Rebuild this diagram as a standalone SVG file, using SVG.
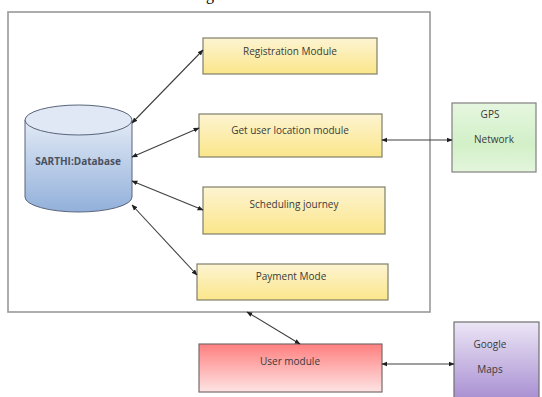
<svg xmlns="http://www.w3.org/2000/svg" width="542" height="397" viewBox="0 0 542 397">
<defs>
<style>
.lbl{font-family:"Open Sans","Liberation Sans",sans-serif;font-size:10px;fill:#3a3a3a;text-anchor:middle}
.conn{stroke:#404040;stroke-width:1.1;fill:none;marker-start:url(#ah);marker-end:url(#ah)}
.box{stroke:#7f7f6a;stroke-width:1.2}
</style>
<marker id="ah" viewBox="0 0 10 10" refX="9" refY="5" markerWidth="6" markerHeight="6" orient="auto-start-reverse" markerUnits="userSpaceOnUse">
<path d="M0,1 L10,5 L0,9 z" fill="#202020"/>
</marker>
<linearGradient id="gy" x1="0" y1="0" x2="0" y2="1"><stop offset="0" stop-color="#fdf4d2"/><stop offset="1" stop-color="#fbe68a"/></linearGradient>
<linearGradient id="gg" x1="0" y1="0" x2="0" y2="1"><stop offset="0" stop-color="#e6f6df"/><stop offset="0.6" stop-color="#d2f0c8"/><stop offset="1" stop-color="#e4f5dc"/></linearGradient>
<linearGradient id="gr" x1="0" y1="0" x2="0" y2="1"><stop offset="0" stop-color="#ff7f7f"/><stop offset="1" stop-color="#fde4e4"/></linearGradient>
<linearGradient id="gp" x1="0" y1="0" x2="0" y2="1"><stop offset="0" stop-color="#ece6f6"/><stop offset="1" stop-color="#a68cd0"/></linearGradient>
<linearGradient id="gb" x1="0" y1="0" x2="0" y2="1"><stop offset="0" stop-color="#e2eaf5"/><stop offset="1" stop-color="#92b0da"/></linearGradient>
</defs>
<rect width="542" height="397" fill="#ffffff"/>
<text x="206" y="0" font-family="Liberation Serif,serif" font-size="16" fill="#000">g</text>
<rect id="frame" x="8" y="12" width="422" height="300" fill="none" stroke="#999999" stroke-width="1.6"/>

<g id="database">
<path d="M25,120 L25,197 A53.5,15 0 0 0 132,197 L132,120 Z" fill="url(#gb)" stroke="#58647a" stroke-width="1"/>
<ellipse cx="78.5" cy="120" rx="53.5" ry="15" fill="#dfe8f4" stroke="#58647a" stroke-width="1"/>
<text class="lbl" x="78" y="165" style="font-weight:bold;fill:#4a5060">SARTHI:Database</text>
</g>

<g id="registration">
<rect class="box" x="203" y="38" width="174" height="36" fill="url(#gy)"/>
<text class="lbl" x="290" y="55">Registration Module</text>
</g>
<g id="location">
<rect class="box" x="199" y="114" width="183" height="43" fill="url(#gy)"/>
<text class="lbl" x="290" y="134">Get user location module</text>
</g>
<g id="scheduling">
<rect class="box" x="203" y="187" width="182" height="47" fill="url(#gy)"/>
<text class="lbl" x="294" y="208">Scheduling journey</text>
</g>
<g id="payment">
<rect class="box" x="197" y="264" width="191" height="36" fill="url(#gy)"/>
<text class="lbl" x="291" y="280">Payment Mode</text>
</g>
<g id="gps">
<rect x="452" y="103" width="84" height="69" fill="url(#gg)" stroke="#808080" stroke-width="1.2"/>
<text class="lbl" x="490" y="118">GPS</text>
<text class="lbl" x="494" y="143">Network</text>
</g>
<g id="user">
<rect x="199" y="344" width="183" height="48" fill="url(#gr)" stroke="#7a6a6a" stroke-width="1.2"/>
<text class="lbl" x="290" y="365">User module</text>
</g>
<g id="maps">
<rect x="454" y="322" width="85" height="80" fill="url(#gp)" stroke="#707070" stroke-width="1.2"/>
<text class="lbl" x="490" y="348">Google</text>
<text class="lbl" x="490" y="373">Maps</text>
</g>

<g id="connectors">
<line class="conn" x1="132" y1="123" x2="203" y2="50"/>
<line class="conn" x1="132" y1="157" x2="199" y2="128"/>
<line class="conn" x1="132" y1="181" x2="203" y2="210"/>
<line class="conn" x1="132" y1="205" x2="197" y2="275"/>
<line class="conn" x1="382" y1="140" x2="452" y2="140"/>
<line class="conn" x1="247" y1="312" x2="300" y2="344"/>
<line class="conn" x1="382" y1="364" x2="454" y2="364"/>
</g>
</svg>
